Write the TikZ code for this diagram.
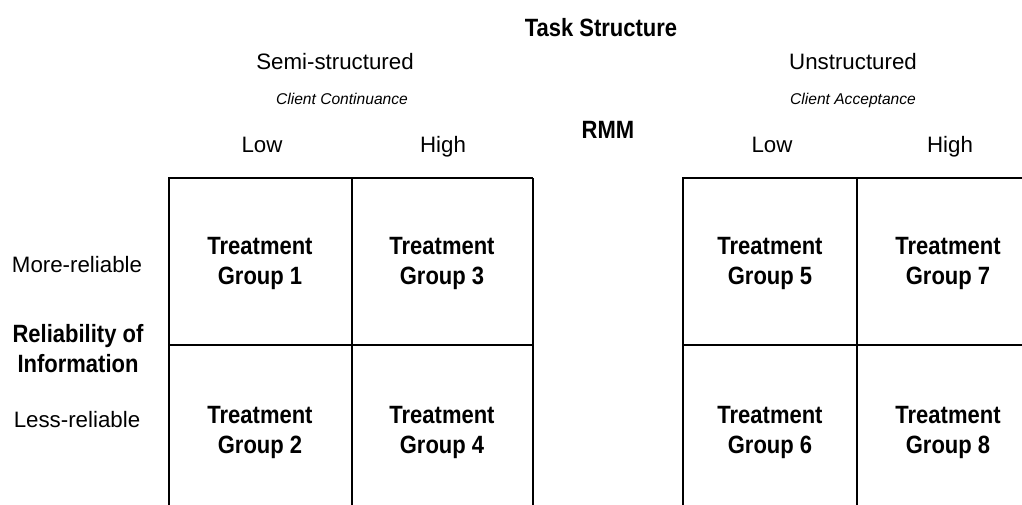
\documentclass[tikz,border=0pt]{standalone}
\usepackage{fontspec}
\setmainfont{Liberation Sans}
\newfontfamily\narrowbold[FakeStretch=0.88]{Liberation Sans Bold}
\usetikzlibrary{positioning,calc}

\begin{document}
\begin{tikzpicture}[x=0.5pt,y=-0.5pt,
lbl/.style={inner sep=0pt,font=\fontsize{11.15}{13}\selectfont},
sub/.style={inner sep=0pt,font=\fontsize{7.8}{9}\selectfont\itshape},
hd/.style={inner sep=0pt,align=center,font=\fontsize{12.5}{15}\selectfont\narrowbold},
grp/.style={inner sep=0pt,align=center,font=\fontsize{12.5}{15}\selectfont\narrowbold},
cell/.style={line width=1.4pt}]

\useasboundingbox (0,0) rectangle (1022,504);
\clip (0,0) rectangle (1022,504);

% headings
\node[hd, anchor=base] (task) at (601,36) {Task Structure};
\node[lbl, anchor=base] (semi) at (335,69) {Semi-structured};
\node[lbl, anchor=base] (unst) at (853,69) {Unstructured};
\node[sub, anchor=base] (cont) at (342,104) {Client Continuance};
\node[sub, anchor=base] (acc) at (853,104) {Client Acceptance};
\node[hd, anchor=base] (rmm) at (608,138) {RMM};
\node[lbl, anchor=base] (low1) at (262,152) {Low};
\node[lbl, anchor=base] (high1) at (443,152) {High};
\node[lbl, anchor=base] (low2) at (772,152) {Low};
\node[lbl, anchor=base] (high2) at (950,152) {High};

% row labels
\node[lbl, anchor=base] (more) at (77,272) {More-reliable};
\node[hd] (rel) at (78,348.5) {Reliability of\\Information};
\node[lbl, anchor=base] (less) at (77,427) {Less-reliable};

% grid
\draw[cell] (169,520) -- (169,178) -- (533,178);
\draw[cell] (169,345) -- (533,345);
\draw[cell] (352,178) -- (352,520);
\draw[cell] (533,178) -- (533,520);
\draw[cell] (683,520) -- (683,178) -- (1040,178);
\draw[cell] (683,345) -- (1040,345);
\draw[cell] (857,178) -- (857,520);

% treatment groups
\node[grp] (g1) at (260,263.5) {Treatment\\Group 1};
\node[grp] (g3) at (442,263.5) {Treatment\\Group 3};
\node[grp] (g2) at (260,432.5) {Treatment\\Group 2};
\node[grp] (g4) at (442,432.5) {Treatment\\Group 4};
\node[grp] (g5) at (770,263.5) {Treatment\\Group 5};
\node[grp] (g7) at (948,263.5) {Treatment\\Group 7};
\node[grp] (g6) at (770,432.5) {Treatment\\Group 6};
\node[grp] (g8) at (948,432.5) {Treatment\\Group 8};
\end{tikzpicture}
\end{document}
